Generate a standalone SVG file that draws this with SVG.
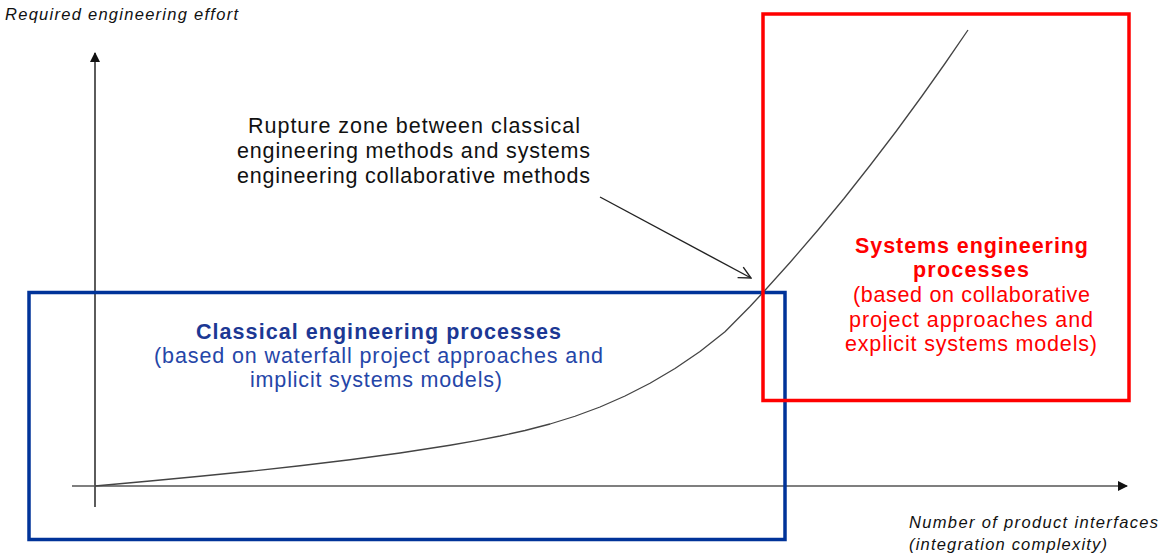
<svg xmlns="http://www.w3.org/2000/svg" width="1161" height="556" viewBox="0 0 1161 556">
<style>
.ax{stroke:#333;stroke-width:1.6;fill:none}
.curve{stroke:#444;stroke-width:1.3;fill:none;stroke-linejoin:round}
.lbl{font-family:"Liberation Sans",Arial,sans-serif;font-style:italic;font-size:16.5px;fill:#111}
.note{font-family:"Liberation Sans",Arial,sans-serif;font-size:21.5px;fill:#111;text-anchor:middle}
.blue{font-family:"Liberation Sans",Arial,sans-serif;font-size:21.5px;fill:#2546a8;text-anchor:middle}
.red{font-family:"Liberation Sans",Arial,sans-serif;font-size:21.5px;fill:#ff0000;text-anchor:middle}
.b{font-weight:bold}
</style>
<defs>
<marker id="tri" markerWidth="10" markerHeight="10" refX="9" refY="5" orient="auto" markerUnits="userSpaceOnUse">
<path d="M0,0 L10,5 L0,10 Z" fill="#111"/>
</marker>
<marker id="open" markerWidth="14" markerHeight="14" refX="13" refY="7" orient="auto" markerUnits="userSpaceOnUse">
<path d="M1,1 L13,7 L1,13" fill="none" stroke="#222" stroke-width="1.4"/>
</marker>
</defs>
<g id="axes">
<line class="ax" x1="95" y1="507" x2="95" y2="53" marker-end="url(#tri)"/>
<line class="ax" x1="72" y1="486" x2="1127" y2="486" marker-end="url(#tri)" style="stroke:#555"/>
</g>
<g id="curve">
<polyline class="curve" points="95,486 150,481 200,476.25 250,471.25 300,465.75 350,459.75 400,453 450,445.25 475,440.9 500,436 525,430.5 550,424 575,416.25 600,407 625,396 650,383.25 675,368.5 700,351.5 725,331.75 750,306.5 763,292.5 790,262.5 818,230 844,198.5 870,165.5 896,131.5 922,96 945,63.5 968,30"/>
</g>
<g id="classical">
<rect x="29" y="292.5" width="756" height="247" fill="none" stroke="#003399" stroke-width="3.5"/>
<text class="blue b" x="378.5" y="339" style="fill:#1c3894" textLength="365">Classical engineering processes</text>
<text class="blue" x="378.5" y="363" textLength="449">(based on waterfall project approaches and</text>
<text class="blue" x="376" y="387" textLength="252">implicit systems models)</text>
</g>
<g id="systems">
<rect x="763" y="14" width="366" height="386.5" fill="none" stroke="#ff0000" stroke-width="3.5"/>
<text class="red b" x="971.5" y="253" textLength="233">Systems engineering</text>
<text class="red b" x="971" y="277" textLength="116">processes</text>
<text class="red" x="971.5" y="302" textLength="237">(based on collaborative</text>
<text class="red" x="971" y="327" textLength="244">project approaches and</text>
<text class="red" x="971" y="351" textLength="252">explicit systems models)</text>
</g>
<g id="rupture">
<text class="note" x="414" y="133" textLength="332">Rupture zone between classical</text>
<text class="note" x="413.5" y="158" textLength="353">engineering methods and systems</text>
<text class="note" x="413.5" y="183" textLength="353">engineering collaborative methods</text>
</g>
<g id="connectors">
<line x1="600" y1="197" x2="751" y2="278" stroke="#222" stroke-width="1.4" marker-end="url(#open)"/>
</g>
<g id="labels">
<text class="lbl" x="5" y="20" textLength="233">Required engineering effort</text>
<text class="lbl" x="909" y="528" textLength="249">Number of product interfaces</text>
<text class="lbl" x="909" y="550" textLength="198">(integration complexity)</text>
</g>
</svg>
